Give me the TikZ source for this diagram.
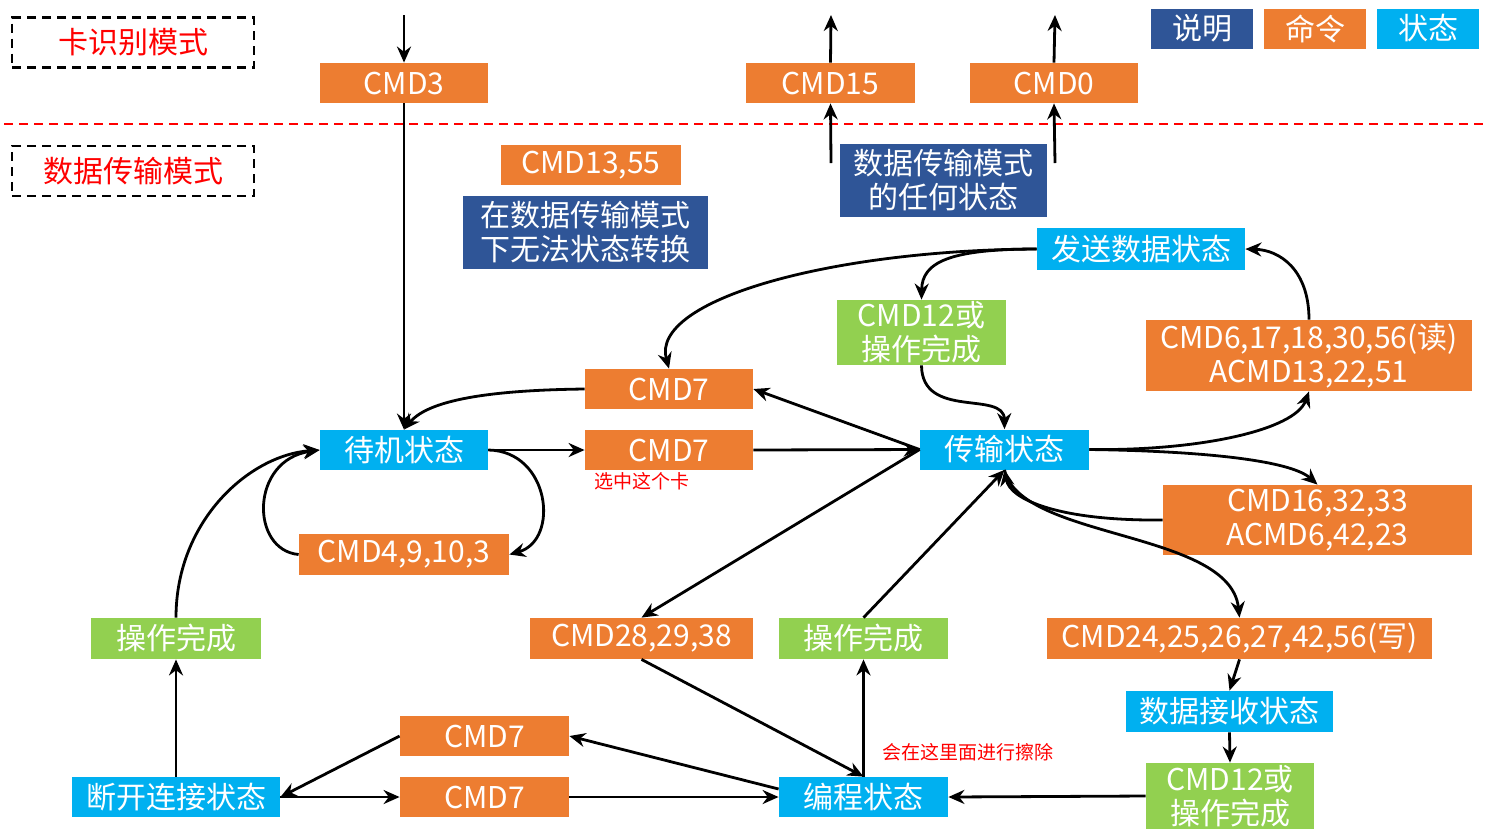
\documentclass[tikz,border=0pt]{standalone}
\usepackage{fontspec}
\setmainfont{Noto Sans CJK SC}
\usetikzlibrary{arrows.meta}
\definecolor{cmdorange}{HTML}{ED7D31}
\definecolor{noteblue}{HTML}{2F5597}
\definecolor{statecyan}{HTML}{00B0F0}
\definecolor{donegreen}{HTML}{92D050}

\begin{document}
\begin{tikzpicture}[x=0.5pt, y=-0.5pt,
        box/.style={rectangle, inner sep=0pt, text=white, align=center, minimum height=20pt, font=\fontsize{15}{17}\selectfont},
        cmd/.style={box, fill=cmdorange},
        state/.style={box, fill=statecyan},
        note/.style={box, fill=noteblue},
        done/.style={box, fill=donegreen},
        modebox/.style={draw=black, dash pattern=on 4.5pt off 3pt, line width=1.1pt, text=red, minimum width=121pt, minimum height=25pt, font=\fontsize{15}{17}\selectfont},
        remark/.style={text=red, font=\fontsize{9.5}{11}\selectfont},
        arr/.style={-{Stealth[length=8pt, width=7pt]}, line width=1.4pt}]
        \useasboundingbox (0, 0) rectangle (1488, 832);
        \draw[red, dash pattern=on 4.5pt off 3pt, line width=1pt] (4, 124) -- (1488, 124);
        \node (cardmode) at (133, 42.5) [modebox] {卡识别模式};
        \node (datamode) at (133, 171) [modebox] {数据传输模式};
        \node (keynote) at (1202, 28.5) [note, minimum width=51pt] {说明};
        \node (keycmd) at (1315, 28.5) [cmd, minimum width=51pt] {命令};
        \node (keystate) at (1428, 28.5) [state, minimum width=51pt] {状态};
        \node (cmdthree) at (404, 83) [cmd, minimum width=84pt] {CMD3};
        \node (cmdfifteen) at (830.5, 83) [cmd, minimum width=84.5pt] {CMD15};
        \node (cmdzero) at (1054, 83) [cmd, minimum width=84pt] {CMD0};
        \node (cmdlock) at (591, 165) [cmd, minimum width=90pt] {CMD13,55};
        \node (nochange) at (585.5, 232.5) [note, minimum width=122.5pt, minimum height=36.5pt] {在数据传输模式\\下无法状态转换};
        \node (anystate) at (943.5, 180.5) [note, minimum width=103.5pt, minimum height=36.5pt] {数据传输模式\\的任何状态};
        \node (send) at (1141, 249) [state, minimum width=104pt, minimum height=21pt] {发送数据状态};
        \node (stopup) at (921.5, 332.5) [done, minimum width=84.5pt, minimum height=32.5pt] {CMD12或\\操作完成};
        \node (readcmd) at (1309, 355.5) [cmd, minimum width=163pt, minimum height=35.5pt] {CMD6,17,18,30,56(读)\\ACMD13,22,51};
        \node (deselup) at (669, 389) [cmd, minimum width=84pt] {CMD7};
        \node (stby) at (404, 450) [state, minimum width=84pt] {待机状态};
        \node (selmid) at (669, 450) [cmd, minimum width=84pt] {CMD7};
        \node (noteselect) at (642, 481) [remark] {选中这个卡};
        \node (tran) at (1004.5, 449.5) [state, minimum width=84.5pt] {传输状态};
        \node (respcmd) at (1317.5, 520) [cmd, minimum width=154.5pt, minimum height=35pt] {CMD16,32,33\\ACMD6,42,23};
        \node (stbycmd) at (404, 554.5) [cmd, minimum width=105pt, minimum height=20.5pt] {CMD4,9,10,3};
        \node (doneleft) at (176, 638.5) [done, minimum width=85pt, minimum height=20.5pt] {操作完成};
        \node (protcmd) at (641.5, 638.5) [cmd, minimum width=111.5pt, minimum height=20.5pt] {CMD28,29,38};
        \node (donemid) at (863.5, 638.5) [done, minimum width=84.5pt, minimum height=20.5pt] {操作完成};
        \node (writecmd) at (1239.5, 638.5) [cmd, minimum width=192.5pt, minimum height=20.5pt] {CMD24,25,26,27,42,56(写)};
        \node (rcv) at (1229.5, 711.5) [state, minimum width=103.5pt, minimum height=20.5pt] {数据接收状态};
        \node (deseltop) at (484.5, 736) [cmd, minimum width=84.5pt] {CMD7};
        \node (selbot) at (484.5, 797) [cmd, minimum width=84.5pt] {CMD7};
        \node (noteerase) at (968, 752) [remark] {会在这里面进行擦除};
        \node (dis) at (176, 797) [state, minimum width=104pt] {断开连接状态};
        \node (prg) at (863.5, 797) [state, minimum width=84.5pt] {编程状态};
        \node (stoplow) at (1230, 796) [done, minimum width=84pt, minimum height=33pt] {CMD12或\\操作完成};
        \coordinate (inthree) at (404, 15);
        \coordinate (outfifteen) at (831, 15);
        \coordinate (outzero) at (1055, 15);
        \coordinate (anyfifteen) at (831, 163);
        \coordinate (anyzero) at (1055, 163);
        \draw[arr] (inthree) -- (cmdthree.north);
        \draw[arr] (cmdthree.south) -- (stby.north);
        \draw[arr] (cmdfifteen.north) -- (outfifteen);
        \draw[arr] (anyfifteen) -- (cmdfifteen.south);
        \draw[arr] (cmdzero.north) -- (outzero);
        \draw[arr] (anyzero) -- (cmdzero.south);
        \draw[arr] (send.west) .. controls (830, 250) and (650, 300) .. (deselup.north);
        \draw[arr] (send.west) .. controls (950, 249) and (922, 262) .. (stopup.north);
        \draw[arr] (stopup.south) .. controls (922, 420) and (1004, 390) .. (tran.north);
        \draw[arr] (tran.west) -- (deselup.east);
        \draw[arr] (deselup.west) .. controls (500, 390) and (430, 398) .. (stby.north);
        \draw[arr] (stby.east) -- (selmid.west);
        \draw[arr] (selmid.east) -- (tran.west);
        \draw[arr] (stby.east) .. controls (550, 451) and (560, 540) .. (stbycmd.east);
        \draw[arr] (stbycmd.west) .. controls (250, 550) and (250, 460) .. (stby.west);
        \draw[arr] (doneleft.north) .. controls (176, 520) and (250, 455) .. (stby.west);
        \draw[arr] (dis.north) -- (doneleft.south);
        \draw[arr] (dis.east) -- (selbot.west);
        \draw[arr] (deseltop.west) -- (dis.east);
        \draw[arr] (selbot.east) -- (prg.west);
        \draw[arr] ([yshift=4pt]prg.west) -- (deseltop.east);
        \draw[arr] (protcmd.south) -- (prg.north);
        \draw[arr] (tran.west) -- (protcmd.north);
        \draw[arr] (prg.north) -- (donemid.south);
        \draw[arr] (donemid.north) -- (tran.south);
        \draw[arr] (tran.east) .. controls (1200, 451) and (1295, 430) .. (readcmd.south);
        \draw[arr] (tran.east) .. controls (1200, 451) and (1290, 460) .. (respcmd.north);
        \draw[arr] (readcmd.north) .. controls (1309, 270) and (1280, 250) .. (send.east);
        \draw[arr] (respcmd.west) .. controls (1060, 521) and (1010, 500) .. (tran.south);
        \draw[arr] (tran.south) .. controls (1020, 540) and (1230, 530) .. (writecmd.north);
        \draw[arr] (writecmd.south) -- (rcv.north);
        \draw[arr] (rcv.south) -- (stoplow.north);
        \draw[arr] (stoplow.west) -- (prg.east);
    \end{tikzpicture}
\end{document}
